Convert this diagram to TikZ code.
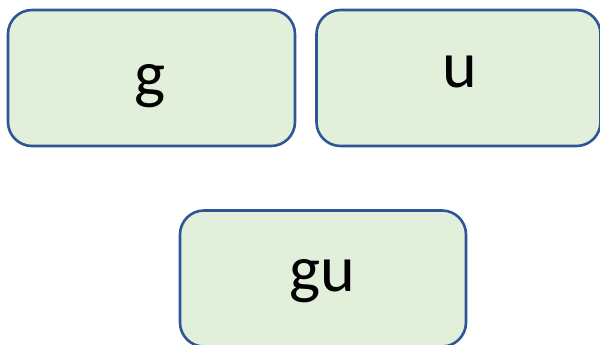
\documentclass[tikz,border=0pt]{standalone}
\usepackage{fontspec}
\setmainfont{Carlito}
\definecolor{boxfill}{HTML}{E2EFDA}
\definecolor{boxline}{HTML}{2F5597}
\begin{document}
\begin{tikzpicture}[x=1pt,y=-1pt,
  blk/.style={draw=boxline,fill=boxfill,line width=2.6pt,rounded corners=24pt,
    minimum width=#1,minimum height=136pt,inner sep=0pt},
  blk/.default=287pt,
  lbl/.style={font=\fontsize{66}{70}\selectfont,anchor=base,inner sep=0pt}]
\useasboundingbox (0,0) rectangle (600,345);
\clip (0,0) rectangle (600,345);
\node[blk] (g) at (151.5,78) {};
\node[blk=284pt] (u) at (458.5,78) {};
\node[blk=286pt] (gu) at (323,278.5) {};
\node[lbl] (gt) at (150,96) {g};
\node[lbl] (ut) at (460,88) {u};
\node[lbl] (gut) at (322,291) {gu};
\end{tikzpicture}
\end{document}
